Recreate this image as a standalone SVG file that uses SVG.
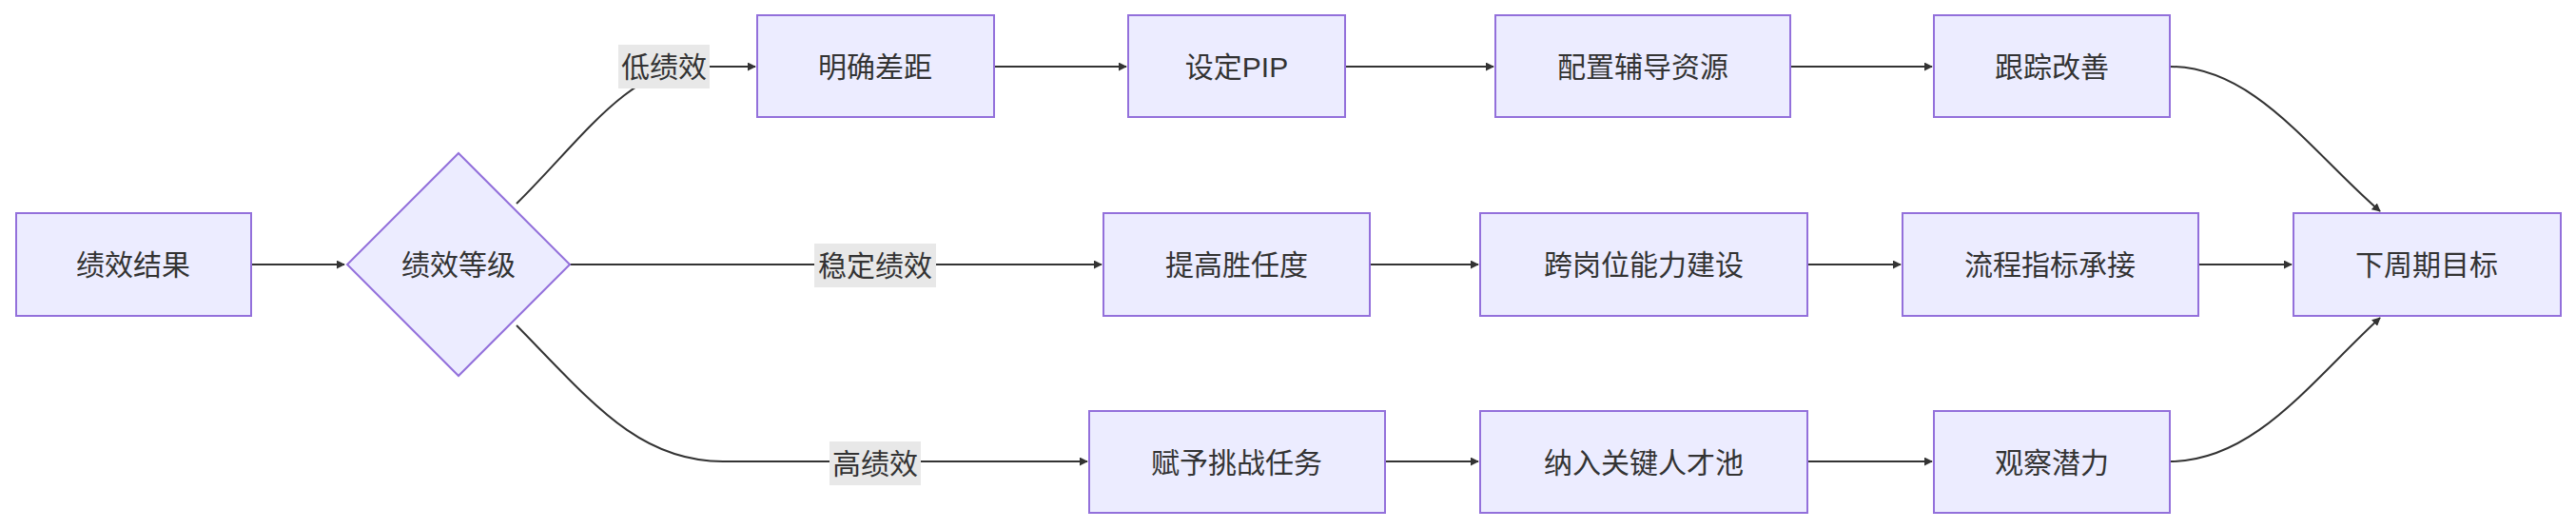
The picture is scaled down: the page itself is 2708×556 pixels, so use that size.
<svg xmlns="http://www.w3.org/2000/svg" width="2708" height="556" viewBox="0 0 2708 556">
<style>
.n rect,.n polygon{fill:#ECECFF;stroke:#9370DB;stroke-width:2}
text{font-family:"Liberation Sans","Noto Sans CJK SC",sans-serif;font-size:30px;fill:#333;text-anchor:middle;dominant-baseline:central}
.e path{fill:none;stroke:#333;stroke-width:2;marker-end:url(#a)}
.lb{fill:#e8e8e8}
</style>
<defs><marker id="a" viewBox="0 0 10 10" refX="9" refY="5" markerWidth="9" markerHeight="9" orient="auto" markerUnits="userSpaceOnUse"><path d="M0,0L10,5L0,10z" fill="#333" transform="scale(1)"/></marker></defs>
<rect width="2708" height="556" fill="#fff"/>
<g class="e">
<path d="M264,278 L362,278" style="marker-end:url(#a)"/>
<path d="M543,214 C610,148 660,72 730,70 L794,70"/>
<path d="M599,278 L1158,278"/>
<path d="M543,342 C620,420 670,485 760,485 L1143,485"/>
<path d="M1045,70 L1184,70"/>
<path d="M1414,70 L1570,70"/>
<path d="M1882,70 L2031,70"/>
<path d="M1440,278 L1554,278"/>
<path d="M1900,278 L1998,278"/>
<path d="M2311,278 L2409,278"/>
<path d="M1456,485 L1554,485"/>
<path d="M1900,485 L2031,485"/>
<path d="M2281,70 C2370,70 2430,160 2502,222"/>
<path d="M2281,485 C2370,485 2430,400 2502,334"/>
</g>
<g id="labels">
<rect class="lb" x="650" y="47" width="96" height="46"/><text x="698" y="70">低绩效</text>
<rect class="lb" x="856" y="256" width="128" height="46"/><text x="920" y="279">稳定绩效</text>
<rect class="lb" x="872" y="464" width="96" height="46"/><text x="920" y="487">高绩效</text>
</g>
<g id="n1" class="n"><rect x="17" y="224" width="247" height="108"/><text x="140" y="278">绩效结果</text></g>
<g id="n2" class="n"><polygon points="482,161 599,278 482,395 365,278"/><text x="482" y="278">绩效等级</text></g>
<g id="n3" class="n"><rect x="796" y="16" width="249" height="107"/><text x="920" y="70">明确差距</text></g>
<g id="n4" class="n"><rect x="1186" y="16" width="228" height="107"/><text x="1300" y="70">设定PIP</text></g>
<g id="n5" class="n"><rect x="1572" y="16" width="310" height="107"/><text x="1727" y="70">配置辅导资源</text></g>
<g id="n6" class="n"><rect x="2033" y="16" width="248" height="107"/><text x="2157" y="70">跟踪改善</text></g>
<g id="n7" class="n"><rect x="1160" y="224" width="280" height="108"/><text x="1300" y="278">提高胜任度</text></g>
<g id="n8" class="n"><rect x="1556" y="224" width="344" height="108"/><text x="1728" y="278">跨岗位能力建设</text></g>
<g id="n9" class="n"><rect x="2000" y="224" width="311" height="108"/><text x="2155" y="278">流程指标承接</text></g>
<g id="n10" class="n"><rect x="2411" y="224" width="281" height="108"/><text x="2551" y="278">下周期目标</text></g>
<g id="n11" class="n"><rect x="1145" y="432" width="311" height="107"/><text x="1300" y="486">赋予挑战任务</text></g>
<g id="n12" class="n"><rect x="1556" y="432" width="344" height="107"/><text x="1728" y="486">纳入关键人才池</text></g>
<g id="n13" class="n"><rect x="2033" y="432" width="248" height="107"/><text x="2157" y="486">观察潜力</text></g>
</svg>
